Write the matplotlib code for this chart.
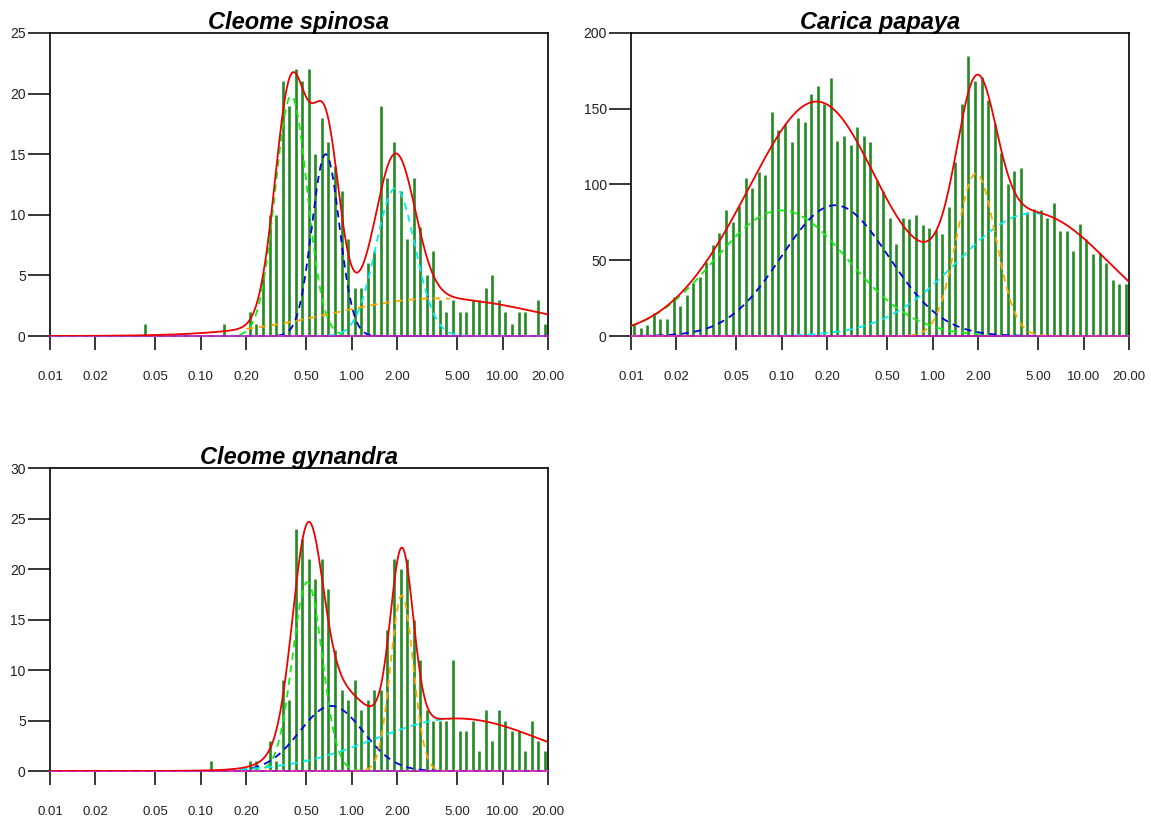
import numpy as np
import matplotlib.pyplot as plt

plt.rcParams["font.family"] = ["Liberation Sans", "DejaVu Sans"]

# Ks histogram: 76 log-spaced bins between 0.01 and 20
bin_edges = np.geomspace(0.01, 20, 77)
x_ticks = [0.01, 0.02, 0.05, 0.1, 0.2, 0.5, 1, 2, 5, 10, 20]
x_ticklabels = ["0.01", "0.02", "0.05", "0.10", "0.20", "0.50",
                "1.00", "2.00", "5.00", "10.00", "20.00"]

# ----------------------------
# counts per bin
# ----------------------------
spinosa_counts = [0, 0, 0, 0, 0, 0, 0, 0, 0, 0,
                  0, 0, 0, 0, 1, 0, 0, 0, 0, 0,
                  0, 0, 0, 0, 0, 0, 1, 0, 0, 0,
                  2, 1, 5, 10, 10, 21, 19, 22, 21, 22,
                  15, 18, 16, 14, 12, 8, 4, 4, 6, 7,
                  19, 13, 16, 12, 8, 13, 9, 5, 7, 3,
                  2, 3, 2, 2, 3, 3, 4, 5, 3, 2,
                  1, 2, 2, 0, 3, 1]

papaya_counts = [8, 5, 7, 15, 11, 11, 26, 20, 27, 35,
                 39, 49, 60, 68, 83, 75, 86, 104, 98, 108,
                 106, 148, 136, 140, 128, 144, 141, 160, 165, 153,
                 170, 129, 132, 126, 138, 132, 128, 103, 96, 78,
                 61, 78, 77, 80, 73, 71, 70, 67, 85, 115,
                 153, 185, 168, 171, 156, 140, 121, 100, 109, 111,
                 82, 84, 83, 78, 88, 69, 69, 56, 74, 64,
                 54, 55, 48, 37, 34, 34]

gynandra_counts = [0, 0, 0, 0, 0, 0, 0, 0, 0, 0,
                   0, 0, 0, 0, 0, 0, 0, 0, 0, 0,
                   0, 0, 0, 0, 1, 0, 0, 0, 0, 0,
                   1, 1, 0, 3, 1, 9, 7, 24, 23, 21,
                   19, 21, 18, 12, 8, 7, 9, 6, 7, 8,
                   8, 14, 21, 20, 21, 15, 11, 6, 5, 5,
                   5, 11, 4, 4, 5, 2, 6, 3, 6, 5,
                   4, 4, 2, 5, 3, 2]

# ----------------------------
# mixture components (green, blue, cyan, orange):
# peak height, mode (Ks), sd on ln scale, drawn range
# ----------------------------
spinosa_peak = [19.8, 15.0, 12.2, 3.1]
spinosa_mode = [0.397, 0.672, 1.95, 3.7]
spinosa_sd = [0.245, 0.21, 0.30, 1.6]
spinosa_from = [0.01, 0.01, 0.01, 0.2]
spinosa_to = [20, 20, 20, 4.5]

papaya_peak = [82.9, 86.3, 81.0, 107.2]
papaya_mode = [0.099, 0.225, 4.6, 1.94]
papaya_sd = [1.02, 0.82, 1.15, 0.30]
papaya_from = [0.01, 0.01, 0.01, 0.01]
papaya_to = [20, 20, 5.3, 20]

gynandra_peak = [18.7, 6.44, 5.2, 17.4]
gynandra_mode = [0.508, 0.733, 5.0, 2.15]
gynandra_sd = [0.227, 0.485, 1.27, 0.173]
gynandra_from = [0.01, 0.01, 0.15, 0.01]
gynandra_to = [20, 20, 4.5, 20]

comp_colors = ["#10EE10", "#0000E0", "#00EEEE", "#FFA500"]


def draw_panel(ax, title, counts, ymax, ystep, peak, mode, sd, lo, hi):
    centers = np.sqrt(bin_edges[:-1] * bin_edges[1:])
    ax.vlines(centers, 0, counts, color="forestgreen", lw=1.9, zorder=2)

    xs = np.geomspace(0.01, 20, 800)
    total = np.zeros_like(xs)
    for k in range(len(peak)):
        y = peak[k] * np.exp(-(np.log(xs / mode[k])) ** 2 / (2 * sd[k] ** 2))
        total += y
        m = (xs >= lo[k]) & (xs <= hi[k])
        ax.plot(xs[m], y[m], color=comp_colors[k], lw=1.3, ls=(0, (4, 3)),
                zorder=3, clip_on=False)
    ax.plot(xs, np.zeros_like(xs), color="#D020D0", lw=1.2, zorder=3, clip_on=False)
    ax.plot(xs, total, color="#EE0000", lw=1.3, zorder=4)

    ax.set_xscale("log")
    ax.set_xlim(0.01, 20)
    ax.set_ylim(0, ymax)
    ax.set_xticks(x_ticks)
    ax.set_xticklabels(x_ticklabels)
    ax.minorticks_off()
    ax.set_yticks(np.arange(0, ymax + 1, ystep))
    ax.tick_params(axis="x", length=10, width=1.1, pad=15, labelsize=9.5,
                   labelcolor="#222222")
    ax.tick_params(axis="y", length=15.5, width=1.1, pad=2, labelsize=10,
                   labelcolor="#222222")
    for sp in ax.spines.values():
        sp.set_linewidth(1.2)
    ax.text(0.5, 1 + 4.5 / 303, title, transform=ax.transAxes, ha="center",
            va="baseline", fontsize=17, fontweight="bold", fontstyle="italic")


fig = plt.figure(figsize=(11.51, 8.22), dpi=100)
ax1 = fig.add_axes([50 / 1151, (822 - 336) / 822, 498 / 1151, 303 / 822])
ax2 = fig.add_axes([631 / 1151, (822 - 336) / 822, 498 / 1151, 303 / 822])
ax3 = fig.add_axes([50 / 1151, (822 - 771) / 822, 498 / 1151, 303 / 822])

draw_panel(ax1, "Cleome spinosa", spinosa_counts, 25, 5,
           spinosa_peak, spinosa_mode, spinosa_sd, spinosa_from, spinosa_to)
draw_panel(ax2, "Carica papaya", papaya_counts, 200, 50,
           papaya_peak, papaya_mode, papaya_sd, papaya_from, papaya_to)
draw_panel(ax3, "Cleome gynandra", gynandra_counts, 30, 5,
           gynandra_peak, gynandra_mode, gynandra_sd, gynandra_from, gynandra_to)

fig.savefig("out.png", dpi=100)
